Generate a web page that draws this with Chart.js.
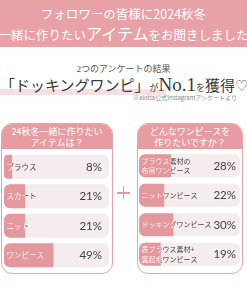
<!DOCTYPE html>
<html lang="ja">
<head>
<meta charset="utf-8">
<script src="https://cdn.jsdelivr.net/npm/chart.js@4.4.1/dist/chart.umd.min.js"></script>
<style>
  html, body { margin: 0; padding: 0; }
  body { width: 247px; height: 296px; overflow: hidden; position: relative; background: #fff;
         font-family: "Noto Sans CJK JP", "Noto Sans", sans-serif; }
  .abs { position: absolute; white-space: nowrap; }
  .band { left: 0; top: 0; width: 247px; height: 47px; background: #e8a1a6; }
  .head { left: 0; width: 247px; text-align: center; color: #fff; }
  .serif { font-family: "Liberation Serif", "DejaVu Serif", "Noto Sans CJK JP", serif; }
  .panel { border: 1px solid #e3a7ab; border-radius: 11px; background: #fff; overflow: hidden; box-sizing: border-box; }
  .panel .ph { background: #e69ca2; color: #fff; text-align: center; font-size: 9px; line-height: 10.5px; padding-top: 3px; height: 25px; box-sizing: border-box; }
  .wrap { position: absolute; }
  .plus-h, .plus-v { position: absolute; background: #e39aa0; }
</style>
</head>
<body>
<div class="abs band"></div>
<div class="abs head" style="top:5px;font-size:12.5px;line-height:18px;">フォロワーの皆様に2024秋冬</div>
<div class="abs head" style="top:23px;font-size:12.5px;line-height:20px;left:-3px;width:253px;">一緒に作りたい<span style="font-size:16px;">アイテム</span>をお聞きしました</div>

<div class="abs serif" style="left:0;top:63px;width:247px;text-align:center;font-size:9px;line-height:12px;color:#555;">2つのアンケートの結果</div>
<div class="abs" style="left:0;top:89px;width:166px;height:6px;background:#f6dfe2;"></div>
<div class="abs serif" style="left:0;top:74px;line-height:22px;color:#3a3a3a;">
  <span style="font-size:15px;">「ドッキングワンピ」</span><span style="font-size:9px;">が</span><span style="font-size:19px;">No.1</span><span style="font-size:9px;">を</span><span style="font-size:15px;">獲得♡</span>
</div>
<div class="abs" style="left:133px;top:94px;font-size:6px;line-height:8px;color:#888;">※alotta公式Instagramアンケートより</div>

<div class="abs panel" style="left:1px;top:123px;width:112px;height:151px;">
  <div class="ph">24秋冬一緒に作りたい<br>アイテムは？</div>
</div>
<div class="abs panel" style="left:137px;top:123px;width:106px;height:151px;">
  <div class="ph">どんなワンピースを<br>作りたいですか？</div>
</div>

<div class="plus-h" style="left:117px;top:192px;width:13px;height:1.5px;"></div>
<div class="plus-v" style="left:122.7px;top:186px;width:1.5px;height:13px;"></div>

<div class="wrap" style="left:4px;top:152px;width:105px;height:118px;"><canvas id="leftChart"></canvas></div>
<div class="wrap" style="left:139px;top:151px;width:101px;height:118px;"><canvas id="rightChart"></canvas></div>

<script>
const leftLabels = ['ブラウス', 'スカート', 'ニット', 'ワンピース'];
const leftValues = [8, 21, 21, 49];
const leftMax = 104;

const rightLabels = [['ブラウス素材の', '布帛ワンピース'], 'ニットワンピース', 'ドッキングワンピース', ['表ブラウス素材+', '裏起毛ワンピース']];
const rightValues = [28, 22, 30, 19];
const rightMax = 88;

const barPink = '#e3989e';
const trackColor = '#f4eced';

function barLabels(labels, values, max, labelSize, pctPad) {
  return {
    id: 'barLabels',
    afterDatasetsDraw(chart) {
      const ctx = chart.ctx;
      const xs = chart.scales.x;
      const left = xs.getPixelForValue(0);
      const right = xs.getPixelForValue(max);
      chart.getDatasetMeta(0).data.forEach((bar, i) => {
        const p = bar.getProps(['x', 'y', 'height'], true);
        const lines = [].concat(labels[i]);
        ctx.save();
        ctx.font = labelSize + 'px "Noto Sans CJK JP", sans-serif';
        ctx.textBaseline = 'middle';
        ctx.textAlign = 'left';
        const drawText = () => {
          lines.forEach((t, k) => {
            ctx.fillText(t, left + 2.5, p.y + (k - (lines.length - 1) / 2) * 9.5);
          });
        };
        // white where the label sits on the bar, dark where it runs onto the track
        ctx.save();
        ctx.beginPath();
        ctx.rect(left, p.y - p.height / 2, p.x - left, p.height);
        ctx.clip();
        ctx.fillStyle = '#fdf0f1';
        drawText();
        ctx.restore();
        ctx.save();
        ctx.beginPath();
        ctx.rect(p.x, p.y - p.height / 2, right - p.x, p.height);
        ctx.clip();
        ctx.fillStyle = '#454545';
        drawText();
        ctx.restore();

        ctx.font = '11.5px Lato, "Noto Sans", sans-serif';
        ctx.fillStyle = '#3f3f3f';
        ctx.textAlign = 'right';
        ctx.fillText(values[i] + '%', right - pctPad, p.y + 0.5);
        ctx.restore();
      });
    }
  };
}

function makeChart(id, labels, values, max, barPct, labelSize, pctPad) {
  return new Chart(document.getElementById(id), {
    type: 'bar',
    data: {
      labels: labels,
      datasets: [{
        data: values,
        backgroundColor: barPink,
        borderSkipped: false,
        borderRadius: { topLeft: 6, bottomLeft: 6, topRight: 0, bottomRight: 0 },
        barPercentage: barPct,
        categoryPercentage: 1,
        grouped: false
      }, {
        data: values.map(() => max),
        backgroundColor: trackColor,
        borderSkipped: false,
        borderRadius: 6,
        barPercentage: barPct,
        categoryPercentage: 1,
        grouped: false
      }]
    },
    options: {
      indexAxis: 'y',
      responsive: true,
      maintainAspectRatio: false,
      animation: false,
      layout: { padding: 0 },
      scales: {
        x: { display: false, min: 0, max: max },
        y: { display: false }
      },
      plugins: {
        legend: { display: false },
        tooltip: { enabled: false }
      }
    },
    plugins: [barLabels(labels, values, max, labelSize, pctPad)]
  });
}

makeChart('leftChart', leftLabels, leftValues, leftMax, 0.82, 7.5, 7);
makeChart('rightChart', rightLabels, rightValues, rightMax, 0.78, 7, 4);
</script>
</body>
</html>
